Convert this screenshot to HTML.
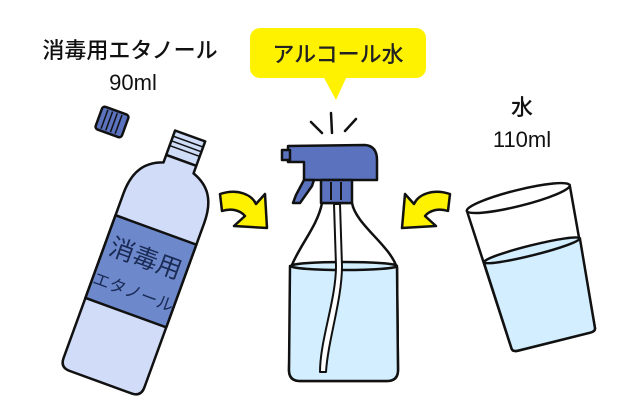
<!DOCTYPE html>
<html><head><meta charset="utf-8"><style>
body{margin:0;background:#fff;}
svg{display:block;}
text{font-family:"Liberation Sans","Noto Sans CJK JP",sans-serif;}
</style></head><body>
<svg width="640" height="400" viewBox="0 0 640 400" xmlns="http://www.w3.org/2000/svg">
<rect width="640" height="400" fill="#fff"/>
<text x="130" y="58" font-size="22" text-anchor="middle" fill="#111" font-weight="500">消毒用エタノール</text>
<text x="133" y="90" font-size="22" text-anchor="middle" fill="#111">90ml</text>
<text x="522" y="115" font-size="22" text-anchor="middle" fill="#111" font-weight="500">水</text>
<text x="522" y="147" font-size="22" text-anchor="middle" fill="#111">110ml</text>
<rect x="250" y="28" width="176" height="50" rx="10" fill="#fff200"/>
<polygon points="323,76 347,76 336,100" fill="#fff200"/>
<text x="338" y="62" font-size="22" text-anchor="middle" fill="#222" font-weight="500">アルコール水</text>
<g stroke="#111" stroke-width="2.5" stroke-linecap="round">
<line x1="331" y1="113" x2="332" y2="133"/>
<line x1="311" y1="122" x2="322" y2="133"/>
<line x1="356" y1="119" x2="345" y2="131"/>
</g>
<g stroke="#111" stroke-width="2.5" stroke-linejoin="round">
<path d="M322,203 C318,225 300,245 292,265 L289,370 Q289,381 300,381 L387,381 Q398,381 398,370 L397,268 C390,245 356,225 352,203 Z" fill="#fff"/>
<path d="M290,266 L397,267 L398,370 Q398,381 387,381 L300,381 Q289,381 289,370 Z" fill="#d3efff"/>
<ellipse cx="344" cy="266" rx="53" ry="4" fill="#d3efff"/>
<path d="M334,204 L336,266 C336,300 320,340 320,372 L326,372 C328,340 342,300 342,266 L340,204 Z" fill="#fff" stroke-width="2"/>
<path d="M288,146 L365,145 Q377,146 377,160 L377,180 L304,180 L304,162 L288,162 Z" fill="#5b73bf"/>
<rect x="282" y="150" width="8" height="10" fill="#5b73bf"/>
<path d="M304,180 L296,195 L293,203 L300,203 L312,186 L314,180 Z" fill="#5b73bf"/>
<rect x="321" y="180" width="31" height="23" fill="#5b73bf"/>
<line x1="331" y1="182" x2="331" y2="200" stroke-width="2"/>
<line x1="341" y1="182" x2="341" y2="200" stroke-width="2"/>
</g>
<g fill="#fff200" stroke="#111" stroke-width="2.5" stroke-linejoin="round">
<path d="M220,194 C238,188 252,195 256,204 L265,194 L267,228 L234,226 L245,216 C240,210 231,208 222,211 Z"/>
<path d="M450,194 C432,188 418,195 414,204 L405,194 L402,228 L436,226 L425,216 C430,210 439,208 448,211 Z"/>
</g>
<g transform="rotate(20,112,122)" stroke="#111" stroke-width="2.5">
<rect x="98" y="110" width="28" height="24" rx="3" fill="#5b73bf"/>
<g stroke-width="1.5"><line x1="104" y1="112" x2="104" y2="132"/><line x1="109" y1="112" x2="109" y2="132"/><line x1="114" y1="112" x2="114" y2="132"/><line x1="119" y1="112" x2="119" y2="132"/></g>
</g>
<g transform="rotate(20,145,260)" stroke="#111" stroke-width="2.5" stroke-linejoin="round">
<rect x="129" y="128" width="32" height="26" fill="#cfdcf8"/>
<g stroke-width="1.5"><line x1="129" y1="134" x2="161" y2="134"/><line x1="129" y1="139" x2="161" y2="139"/><line x1="129" y1="144" x2="161" y2="144"/></g>
<path d="M129,154 L161,154 L161,162 C178,168 188,180 188,205 L188,380 Q188,390 178,390 L112,390 Q102,390 102,380 L102,205 C102,180 112,168 129,162 Z" fill="#d0dcf8"/>
<path d="M102,228 L188,228 L188,316 L102,316 Z" fill="#6d89cc"/>
<text x="145" y="267" font-size="25" text-anchor="middle" fill="#1a2a55" stroke="none">消毒用</text>
<text x="145" y="300" font-size="17" text-anchor="middle" fill="#1a2a55" stroke="none">エタノール</text>
</g>
<g transform="rotate(-14,535,265)" stroke="#111" stroke-width="2.5" stroke-linejoin="round">
<path d="M482,196 L588,196 L578,340 Q578,344 572,344 L498,344 Q492,344 492,340 Z" fill="#fff"/>
<path d="M486,250 L585,250 L578,340 Q578,344 572,344 L498,344 Q492,344 492,340 Z" fill="#d3efff"/>
<ellipse cx="535.5" cy="250" rx="49.5" ry="5" fill="#d3efff"/>
<ellipse cx="535" cy="196" rx="53" ry="8" fill="#fff"/>
</g>
</svg>
</body></html>
